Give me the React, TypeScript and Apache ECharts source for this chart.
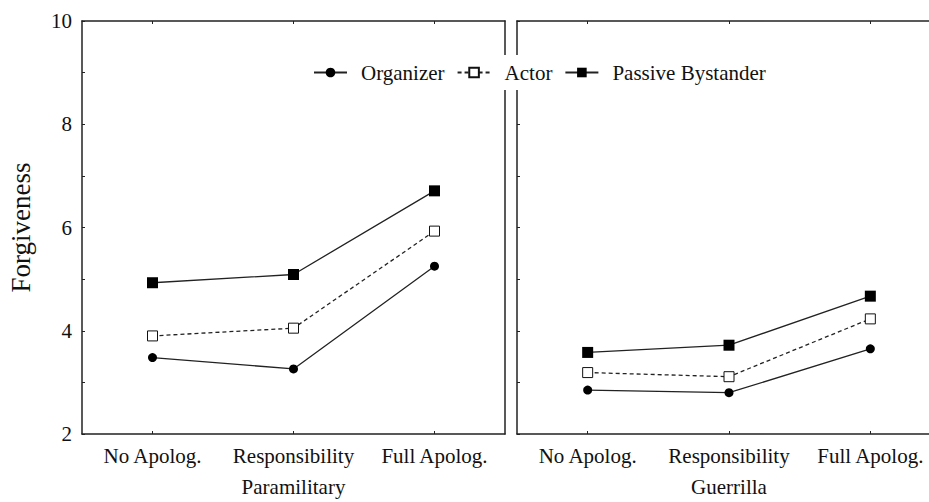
import React, { useEffect, useRef } from "react";
import * as echarts from "echarts";

const categories = ["No Apolog.", "Responsibility", "Full Apolog."];
const panelNames = ["Paramilitary", "Guerrilla"];
const yTickLabels = ["2", "4", "6", "8", "10"];

const paramilitaryOrganizer = [3.48, 3.26, 5.25];
const paramilitaryActor = [3.9, 4.05, 5.93];
const paramilitaryPassive = [4.93, 5.09, 6.71];

const guerrillaOrganizer = [2.85, 2.8, 3.65];
const guerrillaActor = [3.19, 3.11, 4.23];
const guerrillaPassive = [3.58, 3.72, 4.67];

const FONT = "'Liberation Serif', 'Times New Roman', serif";
const INK = "#111";
const LINE = "#222";

export default function App() {
  const ref = useRef<HTMLDivElement>(null);

  useEffect(() => {
    if (!ref.current) return;
    const chart = echarts.init(ref.current, undefined, { renderer: "svg" });

    const grids = [
      { left: 82, top: 21, width: 423, height: 417 },
      { left: 517, top: 21, width: 424, height: 417 },
    ];

    const xAxes: any[] = [];
    const yAxes: any[] = [];
    grids.forEach((_, gi) => {
      xAxes.push({
        type: "category",
        gridIndex: gi,
        data: categories,
        position: "bottom",
        boundaryGap: true,
        name: panelNames[gi],
        nameLocation: "middle",
        nameGap: 42,
        nameTextStyle: { fontFamily: FONT, fontSize: 21, color: INK },
        axisLine: { show: true, lineStyle: { color: LINE, width: 1.5 } },
        axisTick: { show: true, inside: true, alignWithLabel: true, length: 3, lineStyle: { color: LINE } },
        axisLabel: { fontFamily: FONT, fontSize: 21, color: INK, margin: 11, interval: 0 },
        splitLine: { show: false },
      });
      xAxes.push({
        type: "category",
        gridIndex: gi,
        data: categories,
        position: "top",
        boundaryGap: true,
        axisLine: { show: true, lineStyle: { color: LINE, width: 1.5 } },
        axisTick: { show: true, inside: true, alignWithLabel: true, length: 3, lineStyle: { color: LINE } },
        axisLabel: { show: false },
        splitLine: { show: false },
      });
      yAxes.push({
        type: "value",
        gridIndex: gi,
        min: 2,
        max: 10,
        interval: 1,
        position: "left",
        name: gi === 0 ? "Forgiveness" : "",
        nameLocation: "middle",
        nameGap: 48,
        nameRotate: 90,
        nameTextStyle: { fontFamily: FONT, fontSize: 27, color: INK },
        axisLine: { show: true, lineStyle: { color: LINE, width: 1.5 } },
        axisTick: { show: true, inside: true, length: 3, lineStyle: { color: LINE } },
        axisLabel: {
          show: gi === 0,
          fontFamily: FONT,
          fontSize: 21,
          color: INK,
          margin: 10,
          formatter: (v: number) => (yTickLabels.includes(String(v)) ? String(v) : ""),
        },
        splitLine: { show: false },
      });
      yAxes.push({
        type: "value",
        gridIndex: gi,
        min: 2,
        max: 10,
        interval: 1,
        position: "right",
        axisLine: { show: true, lineStyle: { color: LINE, width: 1.5 } },
        axisTick: { show: false },
        axisLabel: { show: false },
        splitLine: { show: false },
      });
    });

    const mk = (name: string, data: number[], gi: number, kind: "org" | "act" | "pas") => {
      const base: any = {
        name,
        type: "line",
        data,
        xAxisIndex: gi * 2,
        yAxisIndex: gi * 2,
        showAllSymbol: true,
        lineStyle: { color: LINE, width: 1.3, type: kind === "act" ? [4, 3] : "solid" },
        z: kind === "pas" ? 3 : 2,
      };
      if (kind === "org") {
        base.symbol = "circle";
        base.symbolSize = 9;
        base.itemStyle = { color: "#000", borderColor: "#000", borderWidth: 0 };
      } else if (kind === "act") {
        base.symbol = "rect";
        base.symbolSize = 10;
        base.itemStyle = { color: "#fff", borderColor: "#111", borderWidth: 1 };
      } else {
        base.symbol = "rect";
        base.symbolSize = 11;
        base.itemStyle = { color: "#000", borderColor: "#000", borderWidth: 0 };
      }
      return base;
    };

    const series = [
      mk("Organizer", paramilitaryOrganizer, 0, "org"),
      mk("Actor", paramilitaryActor, 0, "act"),
      mk("Passive Bystander", paramilitaryPassive, 0, "pas"),
      mk("Organizer", guerrillaOrganizer, 1, "org"),
      mk("Actor", guerrillaActor, 1, "act"),
      mk("Passive Bystander", guerrillaPassive, 1, "pas"),
    ];

    chart.setOption({
      animation: false,
      backgroundColor: "#fff",
      grid: grids,
      xAxis: xAxes,
      yAxis: yAxes,
      legend: {
        data: ["Organizer", "Actor", "Passive Bystander"],
        left: 308,
        top: 55,
        orient: "horizontal",
        backgroundColor: "#fff",
        padding: [7, 5, 7, 5],
        itemGap: 12,
        itemWidth: 33,
        itemHeight: 12,
        textStyle: { fontFamily: FONT, fontSize: 21, color: INK, padding: [0, 0, 0, 9] },
      },
      series,
    });

    return () => chart.dispose();
  }, []);

  return (
    <div style={{ position: "fixed", left: 0, top: 0, width: 929, height: 502, overflow: "hidden", background: "#fff" }}>
      <div ref={ref} style={{ width: 942, height: 502 }} />
    </div>
  );
}
